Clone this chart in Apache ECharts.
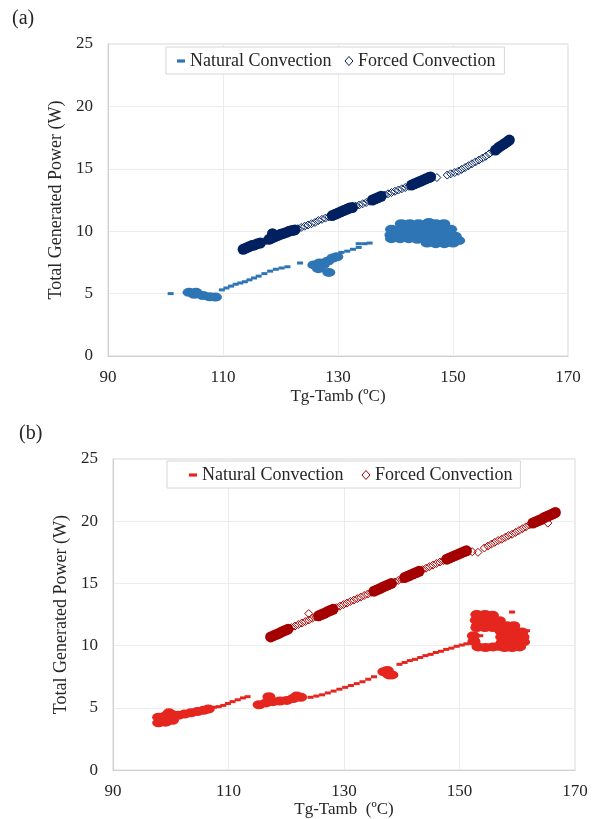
<!DOCTYPE html>
<html><head><meta charset="utf-8">
<script src="https://cdn.jsdelivr.net/npm/echarts@6/dist/echarts.min.js"></script>
<style>html,body{margin:0;padding:0;background:#fff}#c{width:596px;height:819px}</style>
</head><body><div id="c"></div><script>
// ---------- tick labels / texts ----------
const xTicks = [90, 110, 130, 150, 170];
const yTicks = [0, 5, 10, 15, 20, 25];
const legendNames = ['Natural Convection', 'Forced Convection'];
const panelLabels = ['(a)', '(b)'];
const xTitleA = 'Tg-Tamb (ºC)';
const xTitleB = 'Tg-Tamb  (ºC)';
const yTitle = 'Total Generated Power (W)';

// ---------- panel (a) ----------
const natA_line = [[100.9,5.0],
 [109.8,5.3],[110.6,5.45],[111.4,5.6],[112.2,5.75],[113,5.85],[113.8,5.95],[114.6,6.1],[115.4,6.25],[116.2,6.4],
 [117.2,6.6],[118.2,6.8],[119.2,6.95],[120.2,7.05],[121.2,7.15],[123.4,7.45],
 [130.6,8.3],[131.6,8.4],[132.6,8.55],[133.6,8.7],[133.6,9.0],[134.6,9.0],[135.5,9.05]];
const natA_blob = [
 [104.1,5.1],[105.3,5.1],[105,4.95],[106.5,4.85],[107.7,4.75],[108.7,4.72],
 [125.8,7.3],[126.8,7.45],[126.6,7.0],[127.4,7.3],[128.4,6.7],[128.2,7.6],[129.1,7.85],[129.8,7.95],
 [141,10.6],[142.5,10.6],[144,10.6],[145.5,10.6],[145.8,10.7],[147,10.6],[148.4,10.6],
 [139.3,10.15],[140.8,10.15],[142.3,10.15],[143.8,10.15],[145.3,10.15],[146.8,10.15],[148.3,10.15],[149.6,10.15],
 [139.2,9.7],[140.7,9.7],[142.2,9.7],[143.7,9.7],[145.2,9.7],[146.7,9.7],[148.2,9.7],[149.6,9.7],[150.4,9.6],
 [139.3,9.4],[140.8,9.4],[142.3,9.4],[143.8,9.35],[145.3,9.3],[146.8,9.3],[148.3,9.3],[149.8,9.3],[151,9.25],
 [145.5,9.05],[147,9.0],[148.5,9.0],[150,9.05]];
const forcedA_sparse = [
 [117,9.15],[117.5,9.25],
 [123,10.2],[123.6,10.3],[124.2,10.4],[124.8,10.5],[125.4,10.6],[126,10.7],[126.6,10.85],[127.2,10.95],[127.8,11.05],[128.4,11.15],
 [133.1,12.0],[133.7,12.1],[134.3,12.2],[134.9,12.3],[135.5,12.4],
 [138.1,12.9],[138.7,13.0],[139.3,13.1],[139.9,13.2],[140.5,13.3],[141.1,13.4],[141.7,13.5],[142.3,13.6],
 [147.2,14.3],[149,14.5],[149.6,14.6],
 [150.3,14.7],[150.9,14.8],[151.5,14.95],[152.1,15.1],[152.7,15.25],[153.3,15.4],[153.9,15.55],[154.5,15.7],
 [155.1,15.85],[155.7,16.0],[156.3,16.2],[156.9,16.4]];
const forcedA_dense = [
 [113.5,8.55],[114,8.65],[114.5,8.75],[115,8.85],[115.5,8.9],[116,9.0],[116.5,9.05],
 [118,9.35],[118.5,9.45],[118.6,9.8],[119,9.55],[119.5,9.65],[120,9.75],[120.5,9.82],[121,9.9],[121.5,10.0],[122,10.05],[122.5,10.1],
 [129,11.25],[129.5,11.35],[130,11.45],[130.5,11.55],[131,11.65],[131.5,11.75],[132,11.85],[132.5,11.9],
 [136,12.5],[136.5,12.6],[137,12.7],[137.5,12.8],
 [142.8,13.7],[143.3,13.8],[143.8,13.9],[144.3,14.0],[144.8,14.1],[145.3,14.2],[145.8,14.3],[146.1,14.35],
 [157.4,16.5],[157.9,16.7],[158.4,16.85],[158.9,17.0],[159.4,17.15],[159.8,17.3]];

// ---------- panel (b) ----------
const natB_line = [
 [107.5,5.05],[108.3,5.1],[109.1,5.2],[109.9,5.35],[110.7,5.5],[111.6,5.65],[112.5,5.8],[113.3,5.9],
 [124.2,5.85],[125.2,5.95],[126.2,6.05],[127.2,6.2],[128.2,6.35],[129.2,6.5],[130.2,6.65],[131.2,6.8],[132.2,6.95],[133.2,7.1],[134.2,7.3],[135.2,7.5],
 [139.6,8.5],[140.5,8.65],[141.4,8.8],[142.3,8.9],[143.2,9.05],[144.1,9.2],[145,9.3],[145.9,9.45],[146.8,9.55],[147.7,9.7],
 [148.6,9.8],[149.5,9.95],[150.4,10.05],[151.2,10.15],[153.6,10.8],[159.1,12.7],[161.7,11.2]];
const natB_blob = [
 [97.9,4.25],[97.9,3.8],[99.1,4.35],[99.1,3.85],[99.7,4.6],[100.3,4.45],[100.3,4.0],[101.3,4.4],
 [102.4,4.5],[103.5,4.6],[104.6,4.7],[105.7,4.8],[106.5,4.9],
 [115.3,5.25],[116.5,5.4],[117,5.9],[117.7,5.5],[118.9,5.55],[120.1,5.6],[121.2,5.75],[121.8,5.95],[122.5,5.85],
 [136.9,7.9],[137.5,8.0],[137.8,7.65],[138.3,7.65],
 [153,12.5],[154.4,12.5],[155.7,12.45],
 [152.9,12.05],[154.3,12.05],[155.7,12.05],[156.9,12.0],
 [153.1,11.6],[154.5,11.6],[155.9,11.6],[157.2,11.6],
 [153,11.45],[154.4,11.45],[155.8,11.45],
 [158.2,11.6],[159.4,11.6],
 [157.2,11.15],[158.5,11.15],[159.8,11.15],[160.8,11.1],
 [157.3,10.7],[158.6,10.7],[159.9,10.7],[161,10.7],
 [157.4,10.25],[158.7,10.25],[160,10.25],[161.1,10.3],
 [157.8,9.85],[159.1,9.85],[160.4,9.9],
 [153.2,9.9],[154.5,9.85],[155.8,9.9],[156.8,9.95],[152.5,10.35],[152.4,10.8]];
const forcedB_sparse = [
 [120.9,11.45],[121.5,11.57],[122.1,11.7],[122.7,11.82],[123.3,11.94],[123.9,12.06],[124.5,12.2],[125.1,12.3],[123.9,12.58],
 [128.7,13.05],[129.3,13.17],[129.9,13.3],[130.5,13.42],[131.1,13.55],[131.7,13.66],[132.3,13.78],[132.9,13.9],[133.5,14.03],[134.1,14.15],[134.7,14.28],
 [138.8,15.12],[139.4,15.24],[140,15.35],
 [143.6,16.1],[144.2,16.22],[144.8,16.35],[145.4,16.47],[146,16.6],[146.6,16.72],[147.2,16.84],
 [152.2,17.55],[153.2,17.5],[154.3,17.85],
 [154.9,18.0],[155.5,18.15],[156.1,18.3],[156.7,18.45],[157.3,18.55],[157.9,18.7],[158.5,18.85],[159.1,18.95],
 [159.7,19.1],[160.3,19.25],[160.9,19.4],[161.5,19.55],[162.1,19.7],[165.3,19.85]];
const forcedB_dense = [
 [117.3,10.7],[117.8,10.8],[118.3,10.9],[118.8,11.0],[119.3,11.12],[119.8,11.22],[120.3,11.32],
 [125.6,12.4],[126.1,12.5],[126.6,12.6],[127.1,12.72],[127.6,12.82],[128.1,12.92],
 [135.2,14.38],[135.7,14.48],[136.2,14.58],[136.7,14.7],[137.2,14.8],[137.7,14.9],[138.2,15.0],
 [140.5,15.47],[141,15.57],[141.5,15.67],[142,15.77],[142.5,15.88],[143,15.98],
 [147.8,16.95],[148.3,17.05],[148.8,17.15],[149.3,17.25],[149.8,17.35],[150.3,17.45],[150.8,17.55],[151.2,17.62],
 [162.7,19.85],[163.2,19.95],[163.7,20.05],[164.2,20.15],[164.7,20.3],[165.2,20.4],[165.7,20.5],[166.2,20.6],[166.6,20.7]];

// ---------- styling ----------
const FONT = '"Liberation Serif", "Times New Roman", serif';
const TXT = '#262626';
const colA = {nat:'#2E75B6', forced:'#002060'};
const colB = {nat:'#E5261F', forced:'#A50000'};
const legendLabel = {natA:legendNames[0], forcedA:legendNames[1], natB:legendNames[0], forcedB:legendNames[1]};

function xAxis(gi, title, gap) {
  return {type:'value', gridIndex:gi, min:xTicks[0], max:xTicks[xTicks.length-1], interval:xTicks[1]-xTicks[0],
    name:title, nameLocation:'middle', nameGap:gap, nameTextStyle:{fontFamily:FONT, fontSize:17, color:TXT},
    axisLine:{show:true, lineStyle:{color:'#D0D0D0'}}, axisTick:{show:false},
    axisLabel:{fontFamily:FONT, fontSize:17, color:TXT, margin:13},
    splitLine:{show:true, lineStyle:{color:'#ECECEC'}}};
}
function yAxis(gi) {
  return {type:'value', gridIndex:gi, min:yTicks[0], max:yTicks[yTicks.length-1], interval:yTicks[1]-yTicks[0],
    name:yTitle, nameLocation:'middle', nameGap:40, nameRotate:90, nameTextStyle:{fontFamily:FONT, fontSize:18, color:TXT},
    axisLine:{show:true, lineStyle:{color:'#D0D0D0'}}, axisTick:{show:false},
    axisLabel:{fontFamily:FONT, fontSize:17, color:TXT, margin:15},
    splitLine:{show:true, lineStyle:{color:'#ECECEC'}}};
}
function sc(name, gi, data, symbol, size, style) {
  return {name, type:'scatter', xAxisIndex:gi, yAxisIndex:gi, data, symbol, symbolSize:size,
    itemStyle:Object.assign({opacity:1}, style), silent:true, animation:false};
}
function legend(ids, cols, left, top, pad, gap) {
  return {left, top, orient:'horizontal', padding:pad, itemGap:gap, itemWidth:8, itemHeight:9,
    backgroundColor:'#fff', borderColor:'#D6D6D6', borderWidth:1, borderRadius:0,
    textStyle:{fontFamily:FONT, fontSize:18, color:TXT}, selectedMode:false,
    formatter:n => legendLabel[n],
    data:[
      {name:ids[0], icon:'path://M0,0h10v4h-10z', itemStyle:{color:cols.nat, borderWidth:0, opacity:1}},
      {name:ids[1], icon:'diamond', itemStyle:{color:'#fff', borderColor:cols.forced, borderWidth:1, opacity:1}}
    ]};
}

const option = {
  animation:false,
  backgroundColor:'#fff',
  grid:[
    {left:108, top:44, width:460, height:312, show:true, borderColor:'#D6D6D6', borderWidth:1, backgroundColor:'#fff'},
    {left:113, top:459, width:462, height:312, show:true, borderColor:'#D6D6D6', borderWidth:1, backgroundColor:'#fff'}
  ],
  xAxis:[xAxis(0, xTitleA, 32), xAxis(1, xTitleB, 30)],
  yAxis:[yAxis(0), yAxis(1)],
  legend:[
    legend(['natA','forcedA'], colA, 166, 47, [5,9,4,11], 13),
    legend(['natB','forcedB'], colB, 167, 461, [5,8,4,22], 18)
  ],
  graphic:[
    {type:'text', left:12, top:9, style:{text:panelLabels[0], fontFamily:FONT, fontSize:20, fill:TXT}},
    {type:'text', left:19, top:424, style:{text:panelLabels[1], fontFamily:FONT, fontSize:20, fill:TXT}}
  ],
  series:[
    sc('forcedA', 0, forcedA_sparse, 'diamond', 8, {color:'rgba(255,255,255,0)', borderColor:colA.forced, borderWidth:1}),
    sc('forcedA', 0, forcedA_dense, 'circle', 11, {color:colA.forced}),
    sc('natA', 0, natA_line, 'rect', [6,3], {color:colA.nat}),
    sc('natA', 0, natA_blob, 'circle', [13,9], {color:colA.nat}),
    sc('forcedB', 1, forcedB_sparse, 'diamond', 8, {color:'rgba(255,255,255,0)', borderColor:colB.forced, borderWidth:1}),
    sc('forcedB', 1, forcedB_dense, 'circle', 11, {color:colB.forced}),
    sc('natB', 1, natB_line, 'rect', [6,3], {color:colB.nat}),
    sc('natB', 1, natB_blob, 'circle', [13,9], {color:colB.nat})
  ]
};
const chart = echarts.init(document.getElementById('c'), null, {renderer:'canvas'});
chart.setOption(option);
</script></body></html>
